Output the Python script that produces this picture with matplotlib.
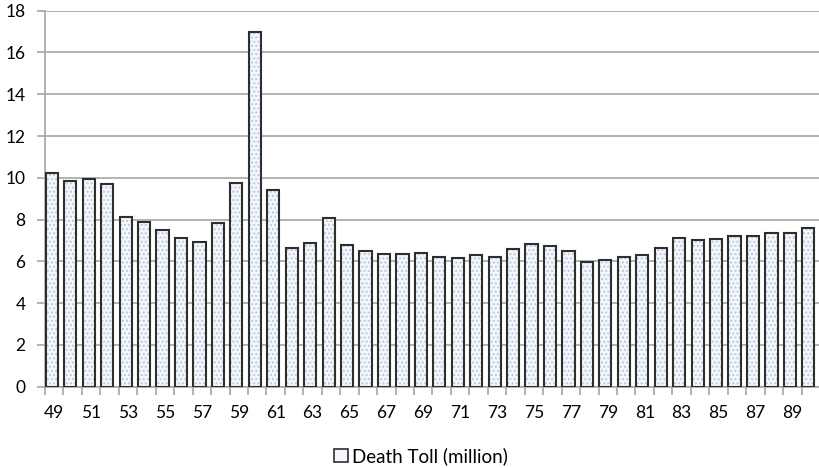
import numpy as np
import matplotlib.pyplot as plt
from matplotlib.patches import Patch

plt.rcParams['font.family'] = ['Lato', 'DejaVu Sans']

# years 1949-1990, death toll in millions
years = list(range(49, 91))
deaths = [10.24, 9.84, 9.94, 9.68, 8.13, 7.88, 7.50, 7.10, 6.91, 7.85,
          9.73, 16.96, 9.41, 6.65, 6.88, 8.06, 6.80, 6.49, 6.35, 6.35,
          6.38, 6.21, 6.16, 6.32, 6.22, 6.60, 6.83, 6.72, 6.48, 5.98,
          6.05, 6.22, 6.32, 6.65, 7.13, 7.03, 7.08, 7.23, 7.20, 7.34,
          7.34, 7.59]
series_name = "Death Toll (million)"

grid_col = '#a6a6a6'
fig = plt.figure(figsize=(8.2, 4.68), dpi=100)
ax = fig.add_axes([45 / 820, 81.3 / 468, 775 / 820, 376 / 468])

x = np.arange(len(years))
# bars sit at the left side of each category slot
left = x - 0.5 + 0.04
ax.bar(left, deaths, width=0.66, align='edge', color='#f4f7fb',
       edgecolor='#b9c9dc', hatch='....', linewidth=0, zorder=2)
ax.bar(left, deaths, width=0.66, align='edge', facecolor='none',
       edgecolor='#2e2e2e', linewidth=1.5, zorder=3)

ax.set_xlim(-0.5, len(years) - 0.5)
ax.set_ylim(0, 18)
ax.set_yticks(range(0, 19, 2))
ax.yaxis.grid(True, color=grid_col, linewidth=1.2, zorder=0)
ax.set_axisbelow(True)

# labels on every other year, ticks on category boundaries
ax.set_xticks(x[::2])
ax.set_xticklabels([str(y) for y in years[::2]])
ax.set_xticks(np.arange(-0.5, len(years), 1), minor=True)
ax.tick_params(axis='x', which='major', length=0, labelsize=12.5, pad=13)
ax.tick_params(axis='x', which='minor', length=6, color=grid_col, width=1.2)
ax.tick_params(axis='y', length=6, color=grid_col, width=1.2, labelsize=12.5, pad=8)

for s in ['top', 'right']:
    ax.spines[s].set_visible(False)
for s in ['left', 'bottom']:
    ax.spines[s].set_color(grid_col)
    ax.spines[s].set_linewidth(1.2)

handle = Patch(facecolor='#f4f7fb', edgecolor='#2e2e2e', linewidth=1.2)
fig.legend([handle], [series_name], loc='center', bbox_to_anchor=(421 / 820, 12 / 468),
           frameon=False, fontsize=13.5, handlelength=0.75, handleheight=0.75,
           handletextpad=0.25, borderpad=0)

fig.savefig('out.png', dpi=100)
